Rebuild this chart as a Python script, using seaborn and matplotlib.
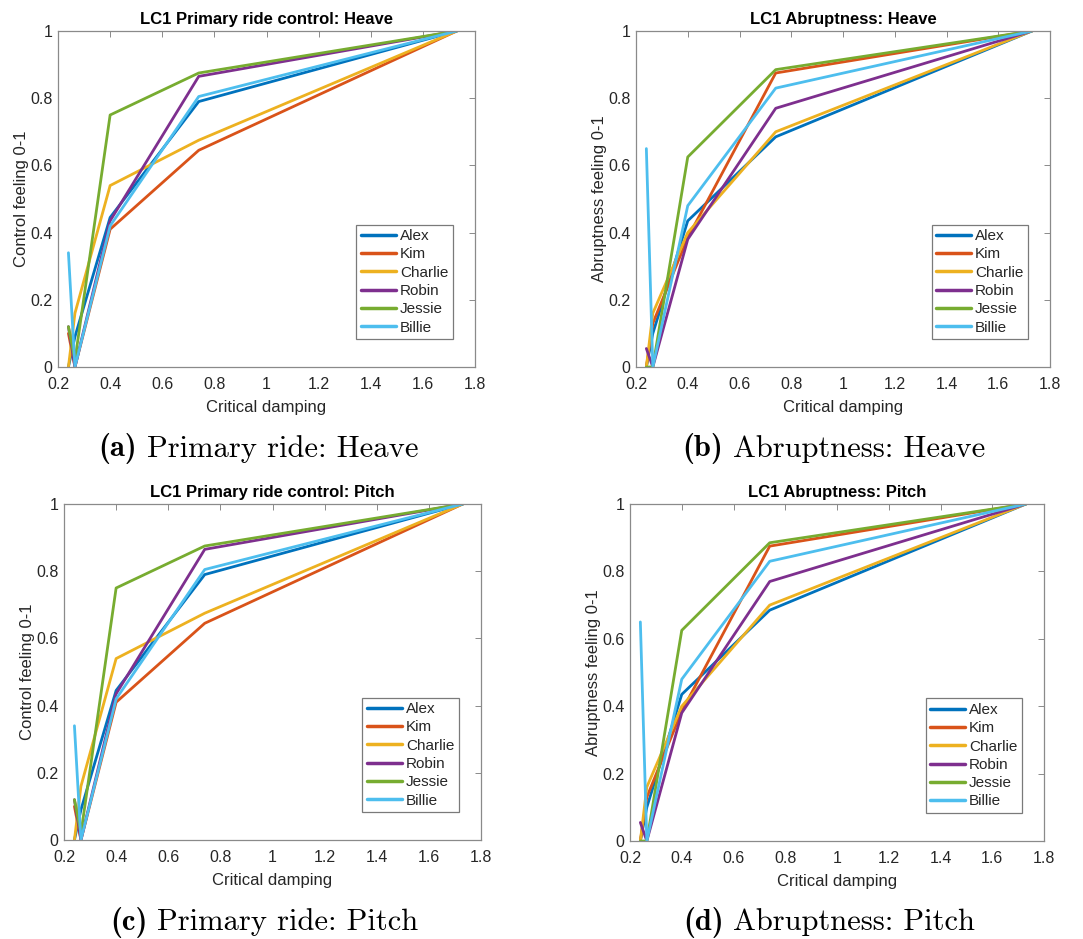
import numpy as np
import pandas as pd
import matplotlib
matplotlib.use("Agg")
import matplotlib.pyplot as plt
from matplotlib.transforms import offset_copy
import seaborn as sns

# Critical damping ratios tested
damping = [0.24, 0.265, 0.40, 0.74, 1.73]

participants = ["Alex", "Kim", "Charlie", "Robin", "Jessie", "Billie"]
colors = ["#0072BD", "#D95319", "#EDB120", "#7E2F8E", "#77AC30", "#4DBEEE"]

# Primary ride control feeling (normalised 0-1)
alex_control = [0.00, 0.09, 0.445, 0.79, 1.00]
kim_control = [0.10, 0.00, 0.41, 0.645, 1.00]
charlie_control = [0.00, 0.16, 0.54, 0.675, 1.00]
robin_control = [0.12, 0.00, 0.435, 0.865, 1.00]
jessie_control = [0.12, 0.02, 0.75, 0.875, 1.00]
billie_control = [0.34, 0.00, 0.42, 0.805, 1.00]

# Abruptness feeling (normalised 0-1)
alex_abrupt = [0.00, 0.10, 0.435, 0.685, 1.00]
kim_abrupt = [0.00, 0.13, 0.385, 0.875, 1.00]
charlie_abrupt = [0.00, 0.16, 0.40, 0.70, 1.00]
robin_abrupt = [0.055, 0.00, 0.38, 0.77, 1.00]
jessie_abrupt = [0.00, 0.00, 0.625, 0.885, 1.00]
billie_abrupt = [0.65, 0.00, 0.48, 0.83, 1.00]

control_heave = [alex_control, kim_control, charlie_control,
                 robin_control, jessie_control, billie_control]
abrupt_heave = [alex_abrupt, kim_abrupt, charlie_abrupt,
                robin_abrupt, jessie_abrupt, billie_abrupt]
control_pitch = control_heave
abrupt_pitch = abrupt_heave

x_ticks = [0.2, 0.4, 0.6, 0.8, 1.0, 1.2, 1.4, 1.6, 1.8]
x_tick_labels = ["0.2", "0.4", "0.6", "0.8", "1", "1.2", "1.4", "1.6", "1.8"]
y_ticks = [0, 0.2, 0.4, 0.6, 0.8, 1.0]
y_tick_labels = ["0", "0.2", "0.4", "0.6", "0.8", "1"]

sns.set_theme(style="white")
plt.rcParams["font.family"] = ["Liberation Sans", "DejaVu Sans"]

text_gray = "#262626"
axis_gray = "#8a8a8a"

fig = plt.figure(figsize=(10.83, 9.39), dpi=100)

panels = [
    dict(rect=[58 / 1083, 1 - 367 / 939, 417 / 1083, 336 / 939],
         series=control_heave, title="LC1 Primary ride control: Heave",
         ylabel="Control feeling 0-1"),
    dict(rect=[636 / 1083, 1 - 367 / 939, 414 / 1083, 336 / 939],
         series=abrupt_heave, title="LC1 Abruptness: Heave",
         ylabel="Abruptness feeling 0-1"),
    dict(rect=[64 / 1083, 1 - 840 / 939, 417 / 1083, 336 / 939],
         series=control_pitch, title="LC1 Primary ride control: Pitch",
         ylabel="Control feeling 0-1"),
    dict(rect=[630 / 1083, 1 - 841 / 939, 414 / 1083, 337 / 939],
         series=abrupt_pitch, title="LC1 Abruptness: Pitch",
         ylabel="Abruptness feeling 0-1"),
]

for p in panels:
    ax = fig.add_axes(p["rect"])
    rows = []
    for name, vals in zip(participants, p["series"]):
        for xv, yv in zip(damping, vals):
            rows.append((name, xv, yv))
    df = pd.DataFrame(rows, columns=["participant", "damping", "score"])
    sns.lineplot(data=df, x="damping", y="score", hue="participant",
                 hue_order=participants, palette=colors, sort=False,
                 estimator=None, linewidth=2.0, ax=ax)
    ax.set_xlim(0.2, 1.8)
    ax.set_ylim(0, 1)
    ax.set_xticks(x_ticks)
    ax.set_xticklabels(x_tick_labels)
    ax.set_yticks(y_ticks)
    ax.set_yticklabels(y_tick_labels)
    ax.tick_params(direction="in", top=True, right=True, length=4, width=0.7,
                   color=axis_gray, labelcolor=text_gray, labelsize=11.5)
    ax.tick_params(axis="x", pad=7)
    ax.tick_params(axis="y", pad=4)
    for s in ax.spines.values():
        s.set_color(axis_gray)
        s.set_linewidth(0.9)
    ax.set_xlabel("Critical damping", fontsize=12, color=text_gray, labelpad=6)
    ax.set_ylabel(p["ylabel"], fontsize=12, color=text_gray, labelpad=1)
    ax.set_title(p["title"], fontsize=12, fontweight="bold", color="black", pad=5)
    handles, labels = ax.get_legend_handles_labels()
    leg = ax.legend(handles, labels, loc="lower right",
                    bbox_to_anchor=(0.947, 0.083), fontsize=11,
                    frameon=True, fancybox=False, framealpha=1,
                    handlelength=2.3, handletextpad=0.25, labelspacing=0.28,
                    borderpad=0.3, borderaxespad=0)
    leg.get_frame().set_edgecolor("#7a7a7a")
    leg.get_frame().set_linewidth(0.9)
    for line in leg.get_lines():
        line.set_linewidth(2.5)

# Sub-figure captions: bold tag followed by regular text, centred as a pair
captions = [
    (258 / 1083, 1 - 449 / 939, "(a)", "Primary ride: Heave"),
    (834 / 1083, 1 - 449 / 939, "(b)", "Abruptness: Heave"),
    (264 / 1083, 1 - 922 / 939, "(c)", "Primary ride: Pitch"),
    (829 / 1083, 1 - 922 / 939, "(d)", "Abruptness: Pitch"),
]
renderer = fig.canvas.get_renderer()
cap_size = 22
for cx, cy, tag, txt in captions:
    t_tag = fig.text(cx, cy, tag, ha="left", va="center", fontsize=cap_size,
                     family="cmb10", color="black")
    t_txt = fig.text(cx, cy, txt, ha="left", va="center", fontsize=cap_size,
                     family="cmr10", color="black")
    w_tag = t_tag.get_window_extent(renderer).width
    w_txt = t_txt.get_window_extent(renderer).width
    gap = cap_size * 0.45
    total = w_tag + gap + w_txt
    t_tag.set_transform(offset_copy(fig.transFigure, fig=fig,
                                    x=-total / 2, units="dots"))
    t_txt.set_transform(offset_copy(fig.transFigure, fig=fig,
                                    x=-total / 2 + w_tag + gap, units="dots"))

fig.savefig("out.png", dpi=100, facecolor="white")
